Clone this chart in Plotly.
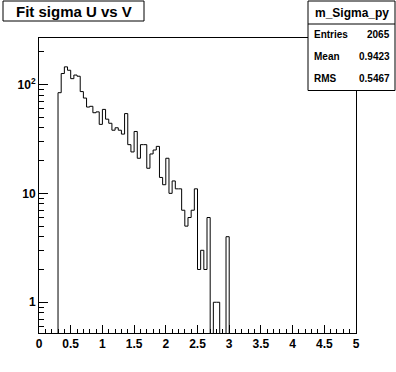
import numpy as np
import plotly.graph_objects as go

# ---- data ----
bin_low = 0.30
bin_width = 0.05
counts = [84, 126, 145, 135, 113, 122, 119, 86, 75, 62, 63, 55, 56, 43, 59, 48, 44,
          38, 40, 38, 35, 54, 28, 24, 37, 21, 28, 28, 17, 23, 25, 27, 14, 12, 21,
          10, 13, 11, 11, 7, 5, 6, 7, 11, 2, 3, 2, 6, 0, 1, 1, 0, 0, 4]
x_tick_vals = [0, 0.5, 1, 1.5, 2, 2.5, 3, 3.5, 4, 4.5, 5]
x_tick_text = ["0", "0.5", "1", "1.5", "2", "2.5", "3", "3.5", "4", "4.5", "5"]
y_tick_vals = [1, 10, 100]
y_tick_text = ["1", "10", "10<sup>2</sup>"]
title_text = "Fit sigma U vs V"
stats_name = "m_Sigma_py"
stats_labels = ["Entries", "Mean", "RMS"]
stats_values = ["2065", "0.9423", "0.5467"]

# ---- geometry ----
W, H = 396, 372
L, R, T, B = 39, 40, 38, 39
PW, PH = W - L - R, H - T - B
FLOOR = 0.2  # zero bins drawn below the axis floor (clipped)


def px2x(px):
    return (px - L) / PW


def py2y(py):
    return (H - B - py) / PH


n = len(counts)
edges = bin_low + bin_width * np.arange(n + 1)
vals = [c if c > 0 else FLOOR for c in counts]
xs = [edges[0]] + list(edges[:-1]) + [edges[-1], edges[-1]]
ys = [FLOOR] + vals + [vals[-1], FLOOR]

fig = go.Figure()
fig.add_trace(go.Scatter(x=xs, y=ys, mode="lines", line=dict(color="black", width=1, shape="hv"),
                         hoverinfo="skip", showlegend=False))

FONT = "Liberation Sans, Arial, Helvetica, sans-serif"
minor_y = [v * d for d in (0.1, 1, 10, 100) for v in range(2, 10) if 0.52 < v * d < 265 and v * d not in (1, 10, 100)]

fig.update_layout(
    width=W, height=H,
    margin=dict(l=L, r=R, t=T, b=B, pad=0),
    paper_bgcolor="white", plot_bgcolor="white",
    font=dict(family=FONT, color="black"),
    xaxis=dict(range=[0, 5], showgrid=False, zeroline=False, showline=True, linecolor="black",
               linewidth=1, mirror=True, ticks="inside", ticklen=8, tickcolor="black",
               tickmode="array", tickvals=x_tick_vals, ticktext=x_tick_text,
               tickfont=dict(size=12, weight="bold", family=FONT),
               minor=dict(ticks="inside", ticklen=4, dtick=0.1, tick0=0, tickcolor="black", showgrid=False)),
    yaxis=dict(type="log", range=[np.log10(0.522), np.log10(267)], showgrid=False, zeroline=False,
               showline=True, linecolor="black", linewidth=1, mirror=True, ticks="inside",
               ticklen=9, tickcolor="black", tickmode="array", tickvals=y_tick_vals,
               ticktext=y_tick_text, tickfont=dict(size=12, weight="bold", family=FONT),
               minor=dict(ticks="inside", ticklen=5, tickmode="array", tickvals=minor_y,
                          tickcolor="black", showgrid=False)),
)

shapes = []
annotations = []
# title box
shapes.append(dict(type="rect", xref="paper", yref="paper", x0=px2x(3), x1=px2x(144),
                   y0=py2y(21), y1=py2y(1), line=dict(color="black", width=1), fillcolor="white",
                   layer="above"))
annotations.append(dict(xref="paper", yref="paper", x=px2x(73.5), y=py2y(11.5), text=title_text,
                        showarrow=False, xanchor="center", yanchor="middle",
                        font=dict(size=15, weight="bold", family=FONT)))
# stats box
shapes.append(dict(type="rect", xref="paper", yref="paper", x0=px2x(308), x1=px2x(395),
                   y0=py2y(90.5), y1=py2y(1), line=dict(color="black", width=1), fillcolor="white",
                   layer="above"))
shapes.append(dict(type="line", xref="paper", yref="paper", x0=px2x(308), x1=px2x(395),
                   y0=py2y(24), y1=py2y(24), line=dict(color="black", width=1), layer="above"))
annotations.append(dict(xref="paper", yref="paper", x=px2x(351.5), y=py2y(13), text=stats_name,
                        showarrow=False, xanchor="center", yanchor="middle",
                        font=dict(size=12, weight="bold", family=FONT)))
row_y = [34, 56, 78]
for lab, val, yy in zip(stats_labels, stats_values, row_y):
    annotations.append(dict(xref="paper", yref="paper", x=px2x(312), y=py2y(yy), text=lab,
                            showarrow=False, xanchor="left", yanchor="middle",
                            font=dict(size=10, weight="bold", family=FONT)))
    annotations.append(dict(xref="paper", yref="paper", x=px2x(392), y=py2y(yy), text=val,
                            showarrow=False, xanchor="right", yanchor="middle",
                            font=dict(size=10, weight="bold", family=FONT)))

fig.update_layout(shapes=shapes, annotations=annotations)
fig.write_html("out.html")
